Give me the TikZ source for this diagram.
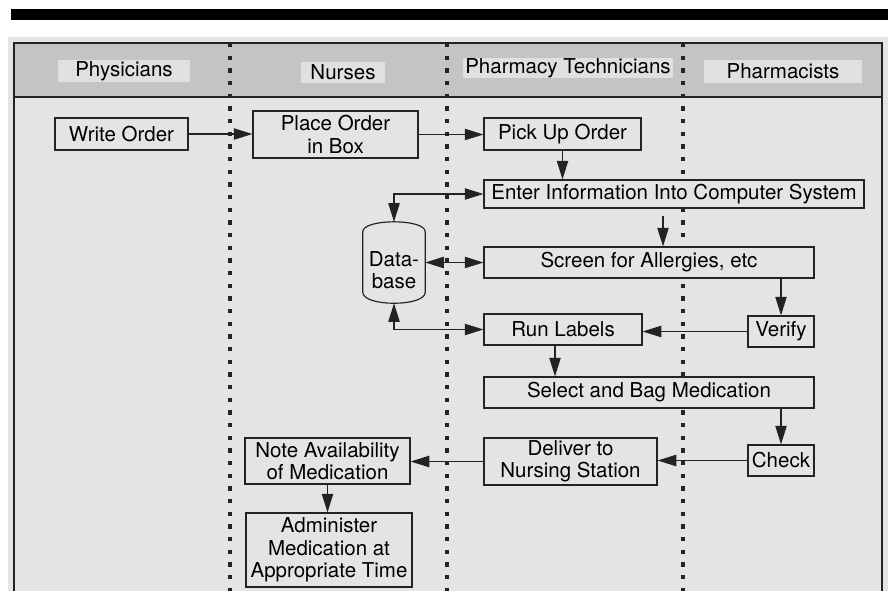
\documentclass[tikz,border=0pt]{standalone}
\usepackage{fontspec}
\setmainfont{TeX Gyre Heros}
\usepackage{tikz}
\usetikzlibrary{arrows.meta, calc}
\definecolor{inkgray}{RGB}{35,35,35}
\definecolor{paper}{RGB}{228,228,228}
\definecolor{bandgray}{RGB}{196,196,196}
\definecolor{tabgray}{RGB}{224,224,224}

\begin{document}
\begin{tikzpicture}[x=0.3mm, y=-0.3mm,
    font=\fontsize{17.5}{19}\selectfont,
    task/.style={draw=inkgray, fill=paper, line width=1pt, align=center, inner sep=0pt},
    lanetab/.style={fill=tabgray, inner sep=0pt},
    flow/.style={draw=inkgray, line width=1.1pt, -{Triangle[length=5.6mm,width=3.4mm]}},
    twoway/.style={flow, {Triangle[length=5.6mm,width=3.4mm]}-{Triangle[length=5.6mm,width=3.4mm]}},
    lane/.style={draw=inkgray, line width=1mm, dash pattern=on 1.3mm off 2.5mm}]
    \useasboundingbox (0,0) rectangle (888,591);

    % page
    \fill[black] (11,9) rectangle (888,20);
    \fill[paper] (8,37) rectangle (888,591);
    \fill[bandgray] (14,43) rectangle (882,97);

    % lane titles
    \node[lanetab, minimum width=39.6mm, minimum height=6.6mm] (phys) at (124,71) {Physicians};
    \node[lanetab, minimum width=25.2mm, minimum height=6.3mm] (nurs) at (343,72.5) {Nurses};
    \node[lanetab, minimum width=63mm, minimum height=6mm] (tech) at (568,68) {Pharmacy Technicians};
    \node[lanetab, minimum width=47.4mm, minimum height=6.9mm] (pharm) at (783,71.5) {Pharmacists};

    % lanes and frame
    \foreach \x in {230,447,683}
        \draw[lane] (\x,43) -- (\x,591);
    \draw[inkgray, line width=0.6mm] (14,591) -- (14,43) -- (882,43) -- (882,591);
    \draw[inkgray, line width=0.6mm] (14,97) -- (882,97);

    % Physicians / Nurses
    \node[task, minimum width=39.9mm, minimum height=9.6mm] (write) at (121.5,134) {Write Order};
    \node[task, minimum width=49.5mm, minimum height=14.1mm] (place) at (335.5,134.5) {Place Order\\in Box};
    \node[task, minimum width=49.5mm, minimum height=13.8mm] (note) at (327.5,461) {Note Availability\\of Medication};
    \node[task, minimum width=49.8mm, minimum height=22.2mm] (admin) at (329,550) {Administer\\Medication at\\Appropriate Time};

    % Database
    \node[inner sep=0pt, minimum width=18.6mm, minimum height=24.3mm] (db) at (394,262.5) {};
    \draw[inkgray, line width=1pt] ($(db.north west)+(0,10)$)
        .. controls ($(db.north west)+(0,-3.3)$) and ($(db.north east)+(0,-3.3)$) .. ($(db.north east)+(0,10)$)
        -- ($(db.south east)+(0,-11)$)
        .. controls ($(db.south east)+(0,3.7)$) and ($(db.south west)+(0,3.7)$) .. ($(db.south west)+(0,-11)$)
        -- cycle;
    \node[align=center, inner sep=0pt] (dblabel) at (394,270) {Data-\\base};

    % Pharmacy Technicians
    \node[task, minimum width=47.1mm, minimum height=9.6mm] (pick) at (562.5,134) {Pick Up Order};
    \node[task, minimum width=114mm, minimum height=8.4mm] (enter) at (674,194) {Enter Information Into Computer System};
    \node[task, minimum width=99mm, minimum height=9.3mm] (screen) at (649,262.5) {Screen for Allergies, etc};
    \node[task, minimum width=47.4mm, minimum height=9.3mm] (run) at (563,329.5) {Run Labels};
    \node[task, minimum width=99mm, minimum height=9.3mm] (select) at (649,392.5) {Select and Bag Medication};
    \node[task, minimum width=51.9mm, minimum height=14.1mm] (deliver) at (570.5,461.5) {Deliver to\\Nursing Station};

    % Pharmacists
    \node[task, minimum width=19.8mm, minimum height=9.3mm] (verify) at (781,331.5) {Verify};
    \node[task, minimum width=19.8mm, minimum height=9.3mm] (check) at (781,460.5) {Check};

    % Arrows
    \draw[flow] (write.east) -- (write.east -| place.west);
    \draw[flow] (place.east) -- (place.east -| pick.west);
    \draw[flow] (pick.south) -- (pick.south |- enter.north);
    \draw[flow] ([xshift=-3.3mm,yshift=-2.1mm]enter.south) -- ([xshift=-3.3mm]enter.south |- screen.north);
    \draw[flow] (verify.north |- screen.south) -- (verify.north);
    \draw[flow] (verify.west) -- (verify.west -| run.east);
    \draw[flow] ([xshift=-2.4mm]run.south) -- ([xshift=-2.4mm]run.south |- select.north);
    \draw[flow] (check.north |- select.south) -- (check.north);
    \draw[flow] (check.west) -- (check.west -| deliver.east);
    \draw[flow] (deliver.west) -- (deliver.west -| note.east);
    \draw[flow] (note.south) -- (note.south |- admin.north);
    \draw[twoway] (db.north) |- (enter.west);
    \draw[twoway] (db.east) -- (db.east -| screen.west);
    \draw[twoway] (db.south) |- (run.west);
\end{tikzpicture}
\end{document}
